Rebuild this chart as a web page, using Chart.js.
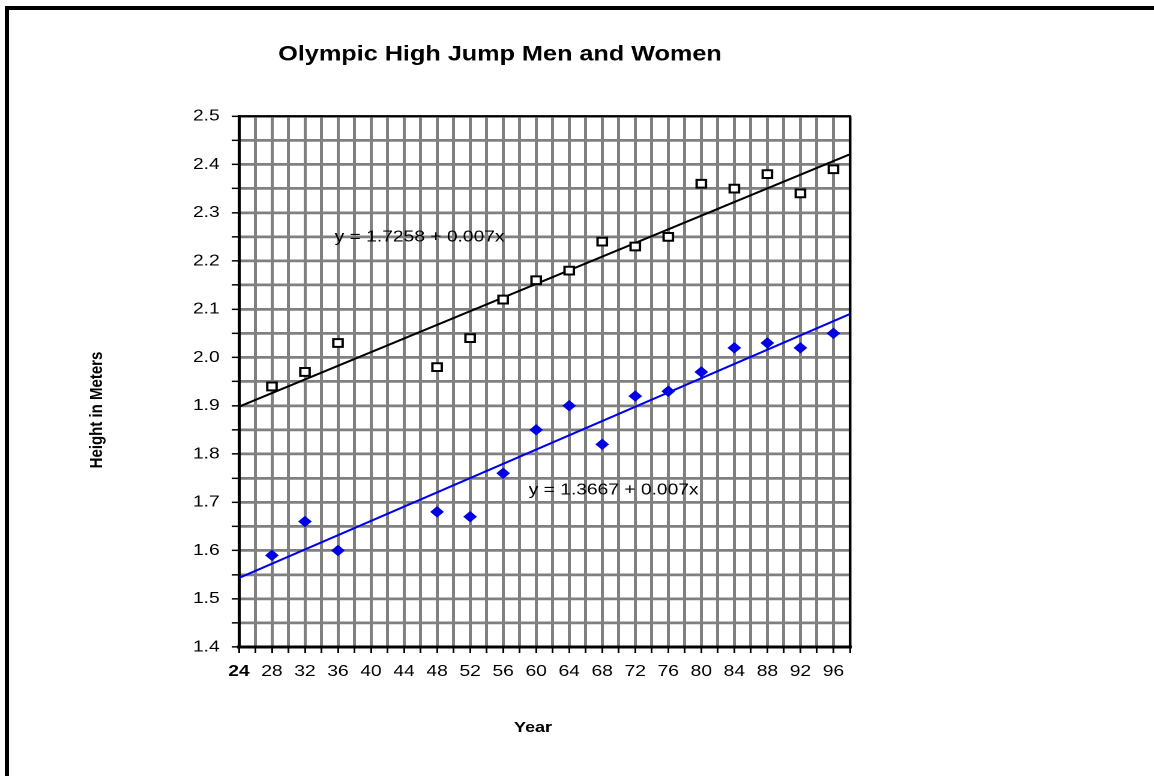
<!DOCTYPE html>
<html>
<head>
<meta charset="utf-8">
<title>Olympic High Jump Men and Women</title>
<script src="https://cdn.jsdelivr.net/npm/chart.js@4.4.1/dist/chart.umd.min.js"></script>
<style>
  html, body { margin: 0; padding: 0; background: #fff; }
  .frame { position: absolute; left: 5px; top: 6px; right: 0; bottom: 0; border-left: 4px solid #000; border-top: 4px solid #000; }
  #highJumpChart { position: absolute; left: 0; top: 0; }
</style>
</head>
<body>
<div class="frame"></div>
<!-- canvas is drawn narrower and stretched, the original picture is wider than tall -->
<canvas id="highJumpChart" width="833" height="776" style="width: 1000px; height: 776px;"></canvas>
<script>
// Olympic years (19xx) and winning heights in meters
const years = [28, 32, 36, 48, 52, 56, 60, 64, 68, 72, 76, 80, 84, 88, 92, 96];
const menHeights = [1.94, 1.97, 2.03, 1.98, 2.04, 2.12, 2.16, 2.18, 2.24, 2.23, 2.25, 2.36, 2.35, 2.38, 2.34, 2.39];
const womenHeights = [1.59, 1.66, 1.60, 1.68, 1.67, 1.76, 1.85, 1.90, 1.82, 1.92, 1.93, 1.97, 2.02, 2.03, 2.02, 2.05];

// fitted lines, ends
const trendYears = [24, 98];
const menTrend = [1.898, 2.421];
const womenTrend = [1.543, 2.090];

const xTickLabels = [24, 28, 32, 36, 40, 44, 48, 52, 56, 60, 64, 68, 72, 76, 80, 84, 88, 92, 96];
const yTickLabels = ['1.4', '1.5', '1.6', '1.7', '1.8', '1.9', '2.0', '2.1', '2.2', '2.3', '2.4', '2.5'];

const equations = ['y = 1.7258 + 0.007x', 'y = 1.3667 + 0.007x'];
const equationX = [35.6, 59.1];
const equationY = [2.249, 1.725];

const FONT = '"Liberation Sans", Arial, sans-serif';
Chart.defaults.font.family = FONT;
Chart.defaults.color = '#000';

const toPoints = (xs, ys) => xs.map((x, i) => ({ x: x, y: ys[i] }));

// black box round the plot area
const plotFrame = {
    id: 'plotFrame',
    beforeDatasetsDraw(chart) {
        const { ctx, chartArea } = chart;
        ctx.save();
        ctx.strokeStyle = '#000';
        ctx.lineWidth = 2;
        ctx.strokeRect(chartArea.left, chartArea.top, chartArea.right - chartArea.left, chartArea.bottom - chartArea.top);
        ctx.restore();
    }
};

// equations and axis titles
const textLabels = {
    id: 'textLabels',
    afterDraw(chart) {
        const { ctx, scales: { x, y } } = chart;
        ctx.save();
        ctx.fillStyle = '#000';
        ctx.textBaseline = 'middle';
        ctx.textAlign = 'left';
        ctx.font = '16px ' + FONT;
        equations.forEach((text, i) => {
            ctx.fillText(text, x.getPixelForValue(equationX[i]), y.getPixelForValue(equationY[i]));
        });
        ctx.font = 'bold 15px ' + FONT;
        ctx.textAlign = 'center';
        ctx.fillText('Year', 444, 728);
        ctx.translate(81, 410);
        ctx.rotate(-Math.PI / 2);
        ctx.fillText('Height in Meters', 0, 0);
        ctx.restore();
    }
};

const highJumpConfig = {
    type: 'scatter',
    data: {
        datasets: [{
            label: 'Men',
            data: toPoints(years, menHeights),
            pointStyle: 'rect',
            pointRadius: 5.5,
            pointBackgroundColor: '#fff',
            pointBorderColor: '#000',
            pointBorderWidth: 2
        }, {
            label: 'Women',
            data: toPoints(years, womenHeights),
            pointStyle: 'rectRot',
            pointRadius: 5,
            pointBackgroundColor: '#0000e6',
            pointBorderColor: '#0000e6',
            pointBorderWidth: 1
        }, {
            label: 'Men fit',
            data: toPoints(trendYears, menTrend),
            showLine: true,
            borderColor: '#000',
            borderWidth: 2,
            pointRadius: 0
        }, {
            label: 'Women fit',
            data: toPoints(trendYears, womenTrend),
            showLine: true,
            borderColor: '#0000ee',
            borderWidth: 2,
            pointRadius: 0
        }]
    },
    options: {
        responsive: false,
        animation: false,
        devicePixelRatio: 2,
        layout: {
            padding: { left: 125, right: 125, top: 0, bottom: 0 }
        },
        plugins: {
            legend: { display: false },
            tooltip: { enabled: false },
            title: {
                display: true,
                text: 'Olympic High Jump Men and Women',
                color: '#000',
                font: { size: 21, weight: 'bold' },
                padding: { top: 42, bottom: 49 }
            }
        },
        scales: {
            x: {
                type: 'linear',
                min: 24,
                max: 98,
                afterFit: (scale) => { scale.height = 129; },
                grid: { color: '#808080', lineWidth: 2.5, tickColor: '#000', tickLength: 6, tickWidth: 1.5 },
                border: { color: '#000', width: 3 },
                ticks: {
                    stepSize: 2,
                    autoSkip: false,
                    maxRotation: 0,
                    color: '#000',
                    padding: 9,
                    font: (ctx) => ({ size: 16, weight: ctx.tick && ctx.tick.value === 24 ? 'bold' : 'normal' }),
                    callback: (value) => xTickLabels.includes(value) ? String(value) : ''
                }
            },
            y: {
                min: 1.4,
                max: 2.5,
                afterFit: (scale) => { scale.width = 74; },
                grid: { color: '#808080', lineWidth: 2.7, tickColor: '#000', tickLength: 6, tickWidth: 1.5 },
                border: { color: '#000', width: 2.5 },
                ticks: {
                    stepSize: 0.05,
                    color: '#000',
                    padding: 10,
                    font: { size: 16 },
                    callback: (value) => {
                        const label = Number(value).toFixed(1);
                        return Math.abs(Number(label) - value) < 1e-6 && yTickLabels.includes(label) ? label : '';
                    }
                }
            }
        }
    },
    plugins: [plotFrame, textLabels]
};

const highJumpChart = new Chart(
    document.getElementById('highJumpChart'),
    highJumpConfig
);
</script>
</body>
</html>
